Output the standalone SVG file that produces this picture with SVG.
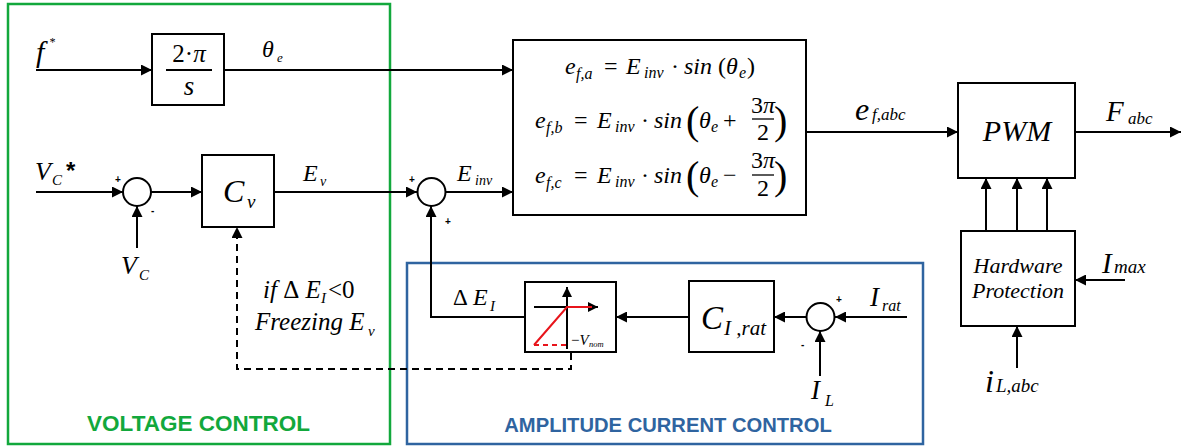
<svg xmlns="http://www.w3.org/2000/svg" width="1191" height="447" viewBox="0 0 1191 447">
<style>
.ln{fill:none;stroke:#000;stroke-width:2}
.box{fill:#fff;stroke:#000;stroke-width:2}
.m{font-family:"Liberation Serif",serif;font-style:italic;fill:#000}
.u{font-family:"Liberation Serif",serif;font-style:normal;fill:#000}
.sg{font-family:"Liberation Sans",sans-serif;font-weight:bold;font-size:10px;fill:#000}
.ttl{font-family:"Liberation Sans",sans-serif;font-weight:bold}
</style>
<defs>
<marker id="ah" viewBox="0 0 10 10" refX="10" refY="5" markerWidth="11" markerHeight="11" markerUnits="userSpaceOnUse" orient="auto"><path d="M0,0 L10,5 L0,10 z" fill="#000"/></marker>
<marker id="as" viewBox="0 0 10 10" refX="10" refY="5" markerWidth="10" markerHeight="10" markerUnits="userSpaceOnUse" orient="auto"><path d="M0,0 L10,5 L0,10 z" fill="#000"/></marker>
</defs>

<g id="voltage-control-frame">
<rect x="8" y="4" width="382" height="440" fill="none" stroke="#12A83C" stroke-width="2.5"/>
<text class="ttl" x="198.5" y="431" font-size="22.5" text-anchor="middle" fill="#12A83C">VOLTAGE CONTROL</text>
</g>
<g id="amplitude-current-control-frame">
<rect x="407" y="263" width="516" height="181" fill="none" stroke="#2F64A0" stroke-width="2.5"/>
<text class="ttl" x="668" y="432" font-size="20.2" text-anchor="middle" fill="#2F64A0">AMPLITUDE CURRENT CONTROL</text>
</g>

<g id="connectors">
<path class="ln" d="M36,70 H152" marker-end="url(#ah)"/>
<path class="ln" d="M224,70 H513" marker-end="url(#ah)"/>
<path class="ln" d="M36,192 H123" marker-end="url(#ah)"/>
<path class="ln" d="M151,192 H202" marker-end="url(#ah)"/>
<path class="ln" d="M137,248 V206" marker-end="url(#ah)"/>
<path class="ln" d="M274,192 H417" marker-end="url(#ah)"/>
<path class="ln" d="M446,192 H513" marker-end="url(#ah)"/>
<path class="ln" d="M525,317 H431 V206" marker-end="url(#ah)"/>
<path class="ln" d="M689,317 H616" marker-end="url(#ah)"/>
<path class="ln" d="M806,317 H774" marker-end="url(#ah)"/>
<path class="ln" d="M907,317 H835" marker-end="url(#ah)"/>
<path class="ln" d="M820,376 V331" marker-end="url(#ah)"/>
<path class="ln" d="M806,132 H958" marker-end="url(#ah)"/>
<path class="ln" d="M1075,132 H1181" marker-end="url(#ah)"/>
<path class="ln" d="M986,231 V178" marker-end="url(#ah)"/>
<path class="ln" d="M1017,231 V178" marker-end="url(#ah)"/>
<path class="ln" d="M1047,231 V178" marker-end="url(#ah)"/>
<path class="ln" d="M1125,280 H1075" marker-end="url(#ah)"/>
<path class="ln" d="M1017,368 V326" marker-end="url(#ah)"/>
<path class="ln" d="M571,353 V369 H237 V227" stroke-dasharray="7,5" marker-end="url(#ah)"/>
</g>

<g id="integrator">
<rect class="box" x="152" y="34" width="72" height="71"/>
<text class="u" x="189" y="62" font-size="25" text-anchor="middle">2·<tspan font-style="italic">π</tspan></text>
<line x1="166" y1="70" x2="212" y2="70" stroke="#000" stroke-width="2"/>
<text class="m" x="189" y="95" font-size="27" text-anchor="middle">s</text>
</g>

<g id="sum-voltage">
<circle cx="137" cy="192" r="14" class="box"/>
<text class="sg" x="115" y="183">+</text>
<text class="sg" x="151" y="214">-</text>
</g>

<g id="controller-cv">
<rect class="box" x="202" y="155" width="72" height="72"/>
<text class="m" x="223" y="202" font-size="32">C</text>
<text class="m" x="247" y="208" font-size="19">v</text>
</g>

<g id="sum-inverter">
<circle cx="431.5" cy="192" r="14" class="box"/>
<text class="sg" x="409" y="183">+</text>
<text class="sg" x="445" y="225">+</text>
</g>

<g id="equations">
<rect class="box" x="513" y="40" width="293" height="175"/>
<g font-size="24">
<text class="m" x="565" y="74">e</text>
<text class="m" x="576" y="79" font-size="16">f,a</text>
<text class="u" x="604" y="74">=</text>
<text class="m" x="626" y="74">E</text>
<text class="m" x="644" y="78" font-size="16">inv</text>
<text class="u" x="671" y="74">·</text>
<text class="m" x="684" y="74">sin</text>
<text class="u" x="718" y="74">(</text>
<text class="m" x="726" y="74">θ</text>
<text class="m" x="739" y="78" font-size="16">e</text>
<text class="u" x="747" y="74">)</text>

<text class="m" x="535" y="128">e</text>
<text class="m" x="546" y="133" font-size="16">f,b</text>
<text class="u" x="574" y="128">=</text>
<text class="m" x="597" y="128">E</text>
<text class="m" x="615" y="132" font-size="16">inv</text>
<text class="u" x="641" y="128">·</text>
<text class="m" x="654" y="128">sin</text>
<text class="u" x="686" y="134" font-size="40">(</text>
<text class="m" x="699" y="128">θ</text>
<text class="m" x="711" y="132" font-size="16">e</text>
<text class="u" x="723" y="128">+</text>
<text class="u" x="763" y="113" text-anchor="middle">3<tspan font-style="italic">π</tspan></text>
<line x1="752" y1="119" x2="774" y2="119" stroke="#000" stroke-width="1.3"/>
<text class="u" x="763" y="140" text-anchor="middle">2</text>
<text class="u" x="774" y="134" font-size="40">)</text>

<text class="m" x="535" y="183">e</text>
<text class="m" x="546" y="188" font-size="16">f,c</text>
<text class="u" x="574" y="183">=</text>
<text class="m" x="597" y="183">E</text>
<text class="m" x="615" y="187" font-size="16">inv</text>
<text class="u" x="641" y="183">·</text>
<text class="m" x="654" y="183">sin</text>
<text class="u" x="686" y="189" font-size="40">(</text>
<text class="m" x="699" y="183">θ</text>
<text class="m" x="711" y="187" font-size="16">e</text>
<text class="u" x="723" y="183">−</text>
<text class="u" x="763" y="168" text-anchor="middle">3<tspan font-style="italic">π</tspan></text>
<line x1="752" y1="175" x2="774" y2="175" stroke="#000" stroke-width="1.3"/>
<text class="u" x="763" y="196" text-anchor="middle">2</text>
<text class="u" x="774" y="189" font-size="40">)</text>
</g>
</g>

<g id="pwm">
<rect class="box" x="958" y="83" width="117" height="95"/>
<text class="m" x="1017" y="141" font-size="30" text-anchor="middle">PWM</text>
</g>

<g id="hardware-protection">
<rect class="box" x="961" y="231" width="114" height="95"/>
<text class="m" x="1018" y="273" font-size="22" text-anchor="middle">Hardware</text>
<text class="m" x="1018" y="298" font-size="22" text-anchor="middle">Protection</text>
</g>

<g id="saturation">
<rect class="box" x="525" y="282" width="91" height="70"/>
<path class="ln" d="M567,349 V287" marker-end="url(#as)"/>
<path class="ln" d="M534,307 H598" marker-end="url(#as)"/>
<path d="M592,307 H567 L534,345" fill="none" stroke="#E8141B" stroke-width="2"/>
<path d="M534,345 H567" fill="none" stroke="#E8141B" stroke-width="2" stroke-dasharray="5,4"/>
<text class="m" x="571" y="345" font-size="15"><tspan font-style="normal">−</tspan>V</text>
<text class="m" x="589" y="347" font-size="8.5">nom</text>
</g>

<g id="controller-cirat">
<rect class="box" x="689" y="281" width="85" height="71"/>
<text class="m" x="701" y="329" font-size="33">C</text>
<text class="m" x="724" y="335" font-size="21">I ,rat</text>
</g>

<g id="sum-current">
<circle cx="820.5" cy="317" r="14" class="box"/>
<text class="sg" x="836" y="303">+</text>
<text class="sg" x="801" y="348">-</text>
</g>

<g id="labels">
<text class="m" x="36" y="62" font-size="30">f</text>
<text class="m" x="49" y="46" font-size="12">*</text>
<text class="m" x="262" y="57" font-size="24">θ</text>
<text class="m" x="277" y="62" font-size="13">e</text>
<text class="m" x="35" y="180" font-size="26">V</text>
<text class="m" x="52" y="185" font-size="15">C</text>
<text x="66" y="179" font-family="Liberation Sans,sans-serif" font-weight="bold" font-size="24">*</text>
<text class="m" x="303" y="181" font-size="24">E</text>
<text class="m" x="320" y="186" font-size="14">v</text>
<text class="m" x="121" y="274" font-size="26">V</text>
<text class="m" x="139" y="280" font-size="15">C</text>
<text class="m" x="457" y="181" font-size="24">E</text>
<text class="m" x="475" y="185" font-size="14">inv</text>
<text class="u" x="453" y="305" font-size="23">Δ</text>
<text class="m" x="473" y="305" font-size="24">E</text>
<text class="m" x="490" y="311" font-size="15">I</text>
<text class="m" x="263" y="298" font-size="25">if <tspan font-style="normal">Δ</tspan> E</text>
<text class="m" x="321" y="303" font-size="15">I</text>
<text class="u" x="328" y="298" font-size="25">&lt;0</text>
<text class="m" x="255" y="330" font-size="25">Freezing E</text>
<text class="m" x="368" y="336" font-size="15">v</text>
<text class="m" x="870" y="306" font-size="27">I</text>
<text class="m" x="882" y="311" font-size="16">rat</text>
<text class="m" x="811" y="399" font-size="27">I</text>
<text class="m" x="825" y="406" font-size="16">L</text>
<text class="m" x="855" y="120" font-size="32">e</text>
<text class="m" x="872" y="120" font-size="17">f,abc</text>
<text class="m" x="1106" y="121" font-size="29">F</text>
<text class="m" x="1128" y="124" font-size="17">abc</text>
<text class="m" x="1102" y="273" font-size="29">I</text>
<text class="m" x="1114" y="273" font-size="19">max</text>
<text class="m" x="985" y="392" font-size="32">i</text>
<text class="m" x="996" y="392" font-size="19">L,abc</text>
</g>
</svg>
